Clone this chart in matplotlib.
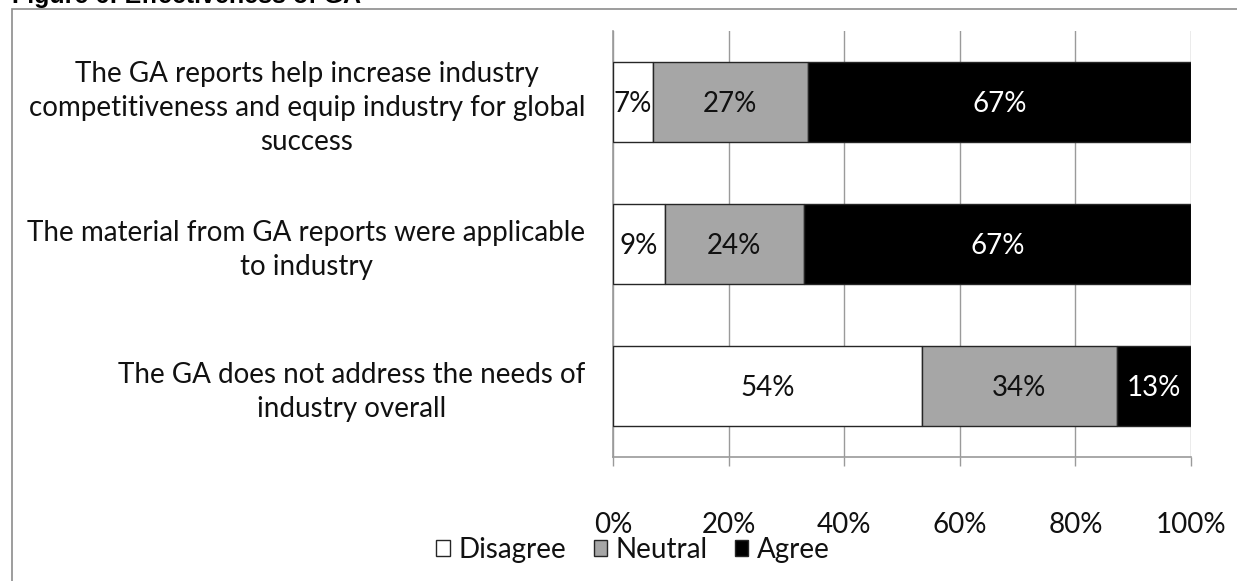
import matplotlib
matplotlib.use("Agg")
import matplotlib.pyplot as plt
import numpy as np
from matplotlib.patches import Rectangle, Patch

# Survey responses (percent of respondents), one entry per statement
categories = [
    "The GA reports help increase industry\ncompetitiveness and equip industry for global\nsuccess",
    "The material from GA reports were applicable\nto industry",
    "The GA does not address the needs of\nindustry overall",
]
disagree = [7, 9, 54]
neutral = [27, 24, 34]
agree = [67, 67, 13]
series_names = ["Disagree", "Neutral", "Agree"]
x_ticks = [0, 20, 40, 60, 80, 100]
title = "Figure 6: Effectiveness of GA"

W, H = 1237, 581
FONT = "Lato"
FS = 20
TEXT = "#111111"
AXIS_GRAY = "#9A9A9A"
plt.rcParams["font.family"] = [FONT, "DejaVu Sans"]

fig = plt.figure(figsize=(W / 100, H / 100), dpi=100)
fig.patch.set_facecolor("white")

# chart frame (runs off the right and bottom edges)
fig.add_artist(Rectangle((12 / W, -0.5), 1.5, 1.5 - 8.5 / H, fill=False,
                         edgecolor="#8C8C8C", linewidth=1.2,
                         transform=fig.transFigure, clip_on=False))

fig.text(12 / W, 1 - 3 / H, title, fontfamily="Liberation Sans",
         fontweight="bold", fontsize=18, ha="left", va="baseline")

ax = fig.add_axes([613 / W, 1 - 456.7 / H, 578 / W, 426 / H])

series = [disagree, neutral, agree]
totals = np.sum(series, axis=0)
fills = ["white", "#A6A6A6", "black"]
text_colors = [TEXT, TEXT, "white"]
y = np.arange(len(categories))
left = np.zeros(len(categories))
handles = []
for vals, fc, tc, name in zip(series, fills, text_colors, series_names):
    # 100% stacked: each segment is its share of the row total
    share = np.array(vals, dtype=float) / totals * 100
    ax.barh(y, share, left=left, height=0.563, color=fc,
            edgecolor="#262626", linewidth=1.0, zorder=3)
    for yi, l, s, v in zip(y, left, share, vals):
        ax.text(l + s / 2, yi, f"{v}%", ha="center", va="center_baseline",
                color=tc, fontsize=FS, zorder=4)
    left += share
    handles.append(Patch(facecolor=fc, edgecolor="#262626", linewidth=1.0, label=name))

ax.set_xlim(0, 100)
ax.set_ylim(len(categories) - 0.5, -0.5)
ax.set_xticks(x_ticks)
ax.set_xticklabels([f"{t}%" for t in x_ticks])
ax.set_yticks(y)
ax.set_yticklabels(categories)
for lbl in ax.get_yticklabels():
    lbl.set_multialignment("center")
    lbl.set_linespacing(1.37)

ax.set_axisbelow(True)
ax.xaxis.grid(True, color=AXIS_GRAY, linewidth=1.0)
for side in ("top", "right"):
    ax.spines[side].set_visible(False)
for side in ("left", "bottom"):
    ax.spines[side].set_color(AXIS_GRAY)
    ax.spines[side].set_linewidth(1.2)

ax.tick_params(axis="x", length=6.5, width=1.0, color=AXIS_GRAY,
               labelsize=FS, pad=33.5, labelcolor=TEXT)
ax.tick_params(axis="y", length=0, labelsize=FS, pad=20, labelcolor=TEXT)

fig.legend(handles=handles, loc="center", bbox_to_anchor=(633 / W, 1 - 550 / H),
           ncol=3, frameon=False, fontsize=FS, handlelength=0.48,
           handleheight=0.48, handletextpad=0.3, columnspacing=1.0,
           labelcolor=TEXT)

fig.savefig("out.png", dpi=100, facecolor="white")
